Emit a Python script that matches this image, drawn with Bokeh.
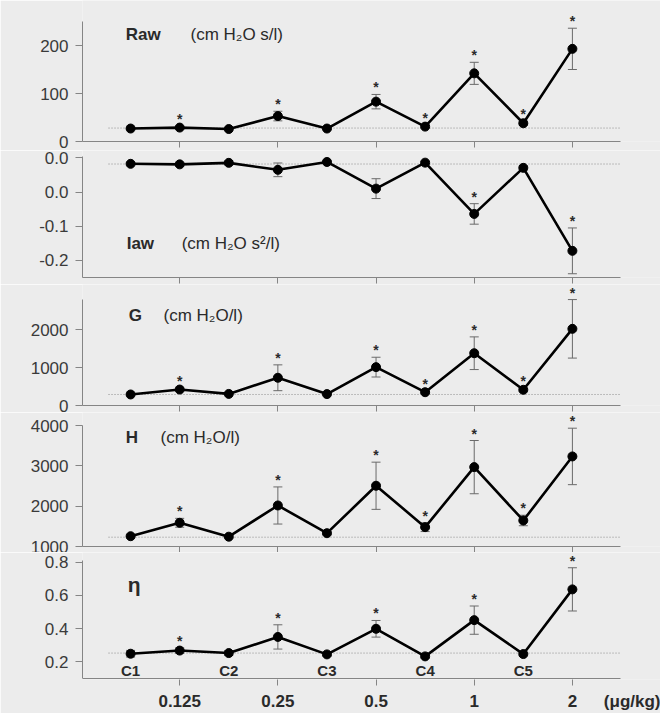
from bokeh.plotting import figure
from bokeh.layouts import column
from bokeh.models import ColumnDataSource, Whisker, TeeHead, FixedTicker, Range1d, Label
from bokeh.core.properties import value
from bokeh.embed import file_html
from bokeh.resources import INLINE

# ---------------- data ----------------
conditions = ["C1", "0.125", "C2", "0.25", "C3", "0.5", "C4", "1", "C5", "2"]
control_labels = ["C1", "C2", "C3", "C4", "C5"]
dose_labels = ["0.125", "0.25", "0.5", "1", "2"]
dose_unit = "(\u03bcg/kg)"

raw_mean = [27, 29, 26, 53, 27, 83, 31, 142, 38, 193]
raw_err = [2, 3, 2, 10, 2, 15, 3, 23, 4, 43]
raw_sig = ["0.125", "0.25", "0.5", "C4", "1", "C5", "2"]
raw_base = 28

iaw_mean = [-0.0087, -0.0095, -0.0073, -0.0175, -0.006, -0.045, -0.007, -0.082, -0.0146, -0.136]
iaw_err = [0.002, 0.003, 0.003, 0.010, 0.002, 0.0145, 0.002, 0.015, 0.003, 0.0335]
iaw_sig = ["1", "2"]
iaw_base = -0.009

g_mean = [290, 420, 305, 730, 300, 1010, 350, 1376, 413, 2018]
g_err = [20, 40, 20, 340, 20, 260, 30, 430, 40, 770]
g_sig = ["0.125", "0.25", "0.5", "C4", "1", "C5", "2"]
g_base = 290

h_mean = [1255, 1588, 1243, 2017, 1330, 2506, 1480, 2968, 1645, 3233]
h_err = [40, 110, 30, 460, 40, 585, 110, 660, 130, 700]
h_sig = ["0.125", "0.25", "0.5", "C4", "1", "C5", "2"]
h_base = 1231

eta_mean = [0.249, 0.268, 0.253, 0.350, 0.245, 0.399, 0.233, 0.451, 0.247, 0.636]
eta_err = [0.02, 0.017, 0.015, 0.073, 0.01, 0.05, 0.01, 0.085, 0.01, 0.13]
eta_sig = ["0.125", "0.25", "0.5", "1", "2"]
eta_base = 0.253

raw_ticks = [0, 100, 200]
iaw_ticks = [0.0, -0.05, -0.10, -0.15]
iaw_tick_text = ["0.0", "0.0", "-0.1", "-0.2"]
g_ticks = [0, 1000, 2000]
h_ticks = [1000, 2000, 3000, 4000]
eta_ticks = [0.2, 0.4, 0.6, 0.8]

# ---------------- style / layout ----------------
FONT = "Liberation Sans"
BG = "#ececec"
AX = "#858585"
TXT = "#2a2a2a"

FRAME_LEFT, AXIS_RIGHT, CANVAS_W = 82, 620, 660
X0, X_AXIS_END = -0.98, 9.98
ppu = (AXIS_RIGHT - FRAME_LEFT) / (X_AXIS_END - X0)
X_END = X0 + (CANVAS_W - FRAME_LEFT) / ppu
UNIT_TICK = 10.22

xs = list(range(len(conditions)))
dose_x = [conditions.index(d) for d in dose_labels]
ctrl_x = [conditions.index(c) for c in control_labels]
x_range = Range1d(X0, X_END)

# (figure top, frame top, frame bottom, figure bottom) in page pixels
panels = [
    dict(name="Raw", unit="(cm H\u2082O  s/l)", mean=raw_mean, err=raw_err, sig=raw_sig, base=raw_base,
         yr=(0, 250), ticks=raw_ticks, tick_text=None, geo=(0, 21, 141, 150),
         name_xy=(-0.1, 0.892), unit_x=1.22, name_size="17px"),
    dict(name="Iaw", unit="(cm H\u2082O  s\u00b2/l)", mean=iaw_mean, err=iaw_err, sig=iaw_sig, base=iaw_base,
         yr=(-0.175, 0.002), ticks=iaw_ticks, tick_text=iaw_tick_text, geo=(150, 156, 277, 284),
         name_xy=(-0.08, 0.28), unit_x=1.04, name_size="17px"),
    dict(name="G", unit="(cm H\u2082O/l)", mean=g_mean, err=g_err, sig=g_sig, base=g_base,
         yr=(0, 2790), ticks=g_ticks, tick_text=None, geo=(284, 299, 405, 412),
         name_xy=(-0.04, 0.85), unit_x=0.67, name_size="17px"),
    dict(name="H", unit="(cm H\u2082O/l)", mean=h_mean, err=h_err, sig=h_sig, base=h_base,
         yr=(1000, 4000), ticks=h_ticks, tick_text=None, geo=(412, 425, 546, 552),
         name_xy=(-0.1, 0.90), unit_x=0.61, name_size="17px"),
    dict(name="\u03b7", unit=None, mean=eta_mean, err=eta_err, sig=eta_sig, base=eta_base,
         yr=(0.1, 0.81), ticks=eta_ticks, tick_text=None, geo=(552, 560, 679, 713),
         name_xy=(-0.06, 0.80), unit_x=None, name_size="21px"),
]

figs = []
for i, pn in enumerate(panels):
    last = i == len(panels) - 1
    ft, frt, frb, fb = pn["geo"]
    y0, y1 = pn["yr"]
    upp = (y1 - y0) / (frb - frt)          # data units per pixel
    y_top = y1 + (frt - ft) * upp           # frame reaches the top of the canvas
    y_bot = y0 - (1 * upp if last else 0)

    p = figure(width=CANVAS_W, height=fb - ft, x_range=x_range, y_range=Range1d(y_bot, y_top),
               output_backend="svg", toolbar_location=None,
               min_border_left=FRAME_LEFT, min_border_right=0,
               min_border_top=0, min_border_bottom=fb - frb,
               background_fill_color=BG, border_fill_color=BG, outline_line_color=None)
    p.grid.visible = False

    # y axis
    p.yaxis.ticker = FixedTicker(ticks=pn["ticks"])
    p.yaxis.bounds = (y0, y1)
    if pn["tick_text"]:
        p.yaxis.major_label_overrides = {t: s for t, s in zip(pn["ticks"], pn["tick_text"])}
    p.yaxis.axis_line_color = AX
    p.yaxis.major_tick_line_color = AX
    p.yaxis.major_tick_out = 7
    p.yaxis.major_tick_in = 0
    p.yaxis.minor_tick_line_color = None
    p.yaxis.major_label_standoff = 7
    p.yaxis.major_label_text_font = FONT
    p.yaxis.major_label_text_font_size = "17px"
    p.yaxis.major_label_text_color = "#3a3a3a"

    # x axis
    p.xaxis.axis_line_color = AX
    p.xaxis.major_tick_line_color = AX
    p.xaxis.minor_tick_line_color = AX
    p.xaxis.major_tick_in = 0
    p.xaxis.minor_tick_in = 0
    if last:
        p.xaxis.ticker = FixedTicker(ticks=dose_x + [UNIT_TICK], minor_ticks=dose_x)
        p.xaxis.bounds = (X0, UNIT_TICK + 0.3)
        p.xaxis.axis_line_color = None
        p.xaxis.major_tick_out = 0
        p.xaxis.minor_tick_out = 6
        p.xaxis.major_label_overrides = dict(zip(dose_x + [UNIT_TICK], dose_labels + [dose_unit]))
        p.xaxis.major_label_text_font = FONT
        p.xaxis.major_label_text_font_style = "bold"
        p.xaxis.major_label_text_font_size = "17px"
        p.xaxis.major_label_text_color = TXT
        p.xaxis.major_label_standoff = 6
        # axis line of the bottom panel (kept inside the frame)
        p.segment(x0=[X0], x1=[X_AXIS_END], y0=[y0], y1=[y0], line_color=AX, line_width=1)
    else:
        p.xaxis.ticker = FixedTicker(ticks=dose_x)
        p.xaxis.bounds = (X0, X_AXIS_END)
        p.xaxis.major_tick_out = 6
        p.xaxis.minor_tick_out = 0
        p.xaxis.major_label_overrides = {x: "" for x in dose_x}
        p.xaxis.major_label_text_font_size = "0px"
        p.xaxis.major_label_standoff = 0

    upper = [m + e for m, e in zip(pn["mean"], pn["err"])]
    lower = [m - e for m, e in zip(pn["mean"], pn["err"])]
    src = ColumnDataSource(dict(x=xs, mean=pn["mean"], upper=upper, lower=lower))

    # control baseline (dotted)
    p.segment(x0=[-0.45], x1=[X_AXIS_END], y0=[pn["base"]], y1=[pn["base"]],
              line_color="#8a8a8a", line_width=1, line_dash="1 2")

    wh = Whisker(base="x", upper="upper", lower="lower", source=src,
                 line_color="#6a6a6a", line_width=1,
                 upper_head=TeeHead(size=9, line_color="#6a6a6a", line_width=1),
                 lower_head=TeeHead(size=9, line_color="#6a6a6a", line_width=1))
    p.add_layout(wh)

    p.line("x", "mean", source=src, line_color="black", line_width=2.6)
    p.scatter("x", "mean", source=src, size=9, color="black")

    # significance stars
    sig_idx = [conditions.index(c) for c in pn["sig"]]
    star_src = ColumnDataSource(dict(x=[xs[k] for k in sig_idx], y=[upper[k] for k in sig_idx],
                                     t=["*"] * len(sig_idx)))
    p.text("x", "y", text="t", source=star_src, text_font=value(FONT), text_font_size="14px",
           text_font_style="bold", text_color=TXT, text_align="center", text_baseline="bottom",
           y_offset=1)

    # panel title
    ty = y0 + pn["name_xy"][1] * (y1 - y0)
    p.add_layout(Label(x=pn["name_xy"][0], y=ty, text=pn["name"], text_font=FONT,
                       text_font_style="bold", text_font_size=pn["name_size"], text_color=TXT,
                       text_baseline="middle", text_align="left"))
    if pn["unit"]:
        p.add_layout(Label(x=pn["unit_x"], y=ty, text=pn["unit"], text_font=FONT,
                           text_font_size="17px", text_color=TXT,
                           text_baseline="middle", text_align="left"))

    if last:
        csrc = ColumnDataSource(dict(x=ctrl_x, y=[y0] * len(ctrl_x), t=control_labels))
        p.text("x", "y", text="t", source=csrc, text_font=value(FONT), text_font_size="15px",
               text_font_style="bold", text_color=TXT, text_align="center",
               text_baseline="bottom", y_offset=0)
    figs.append(p)

layout = column(*figs, spacing=0)
open("out.html", "w").write(file_html(layout, INLINE))
